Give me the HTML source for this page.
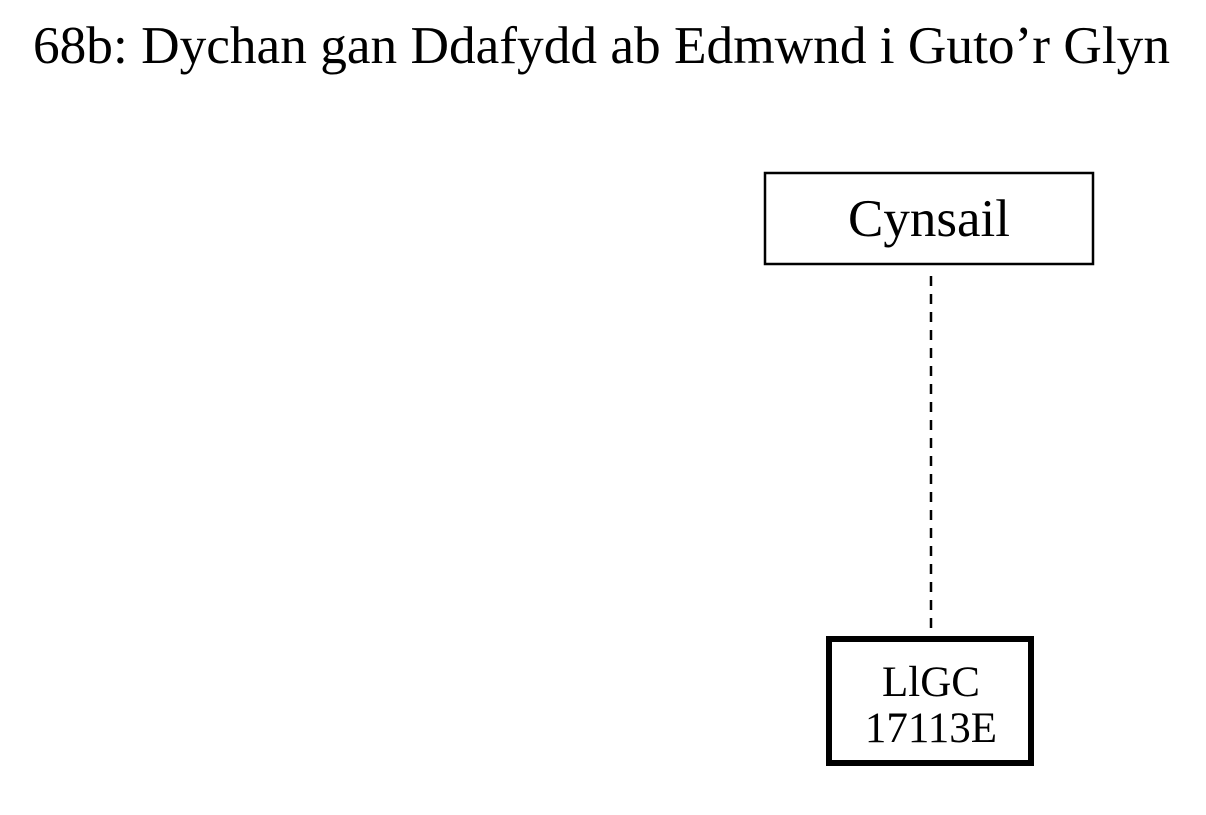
<!DOCTYPE html>
<html><head><style>
body{margin:0;background:#fff;width:1206px;height:810px;overflow:hidden;font-family:"Liberation Serif",serif}
</style></head><body>
<svg width="1206" height="810" xmlns="http://www.w3.org/2000/svg" font-family="Liberation Serif, serif">
<text x="33" y="63" font-size="53" textLength="1137" lengthAdjust="spacingAndGlyphs">68b: Dychan gan Ddafydd ab Edmwnd i Guto’r Glyn</text>
<rect x="765" y="173" width="328" height="91" fill="none" stroke="#000" stroke-width="2.5"/>
<text x="929" y="236" font-size="53" text-anchor="middle">Cynsail</text>
<line x1="931" y1="276" x2="931" y2="636" stroke="#000" stroke-width="2.5" stroke-dasharray="10,8"/>
<rect x="829" y="639" width="202" height="124" fill="none" stroke="#000" stroke-width="6"/>
<text x="931" y="696" font-size="43" text-anchor="middle">LlGC</text>
<text x="931" y="742" font-size="43" text-anchor="middle">17113E</text>
</svg>
</body></html>
